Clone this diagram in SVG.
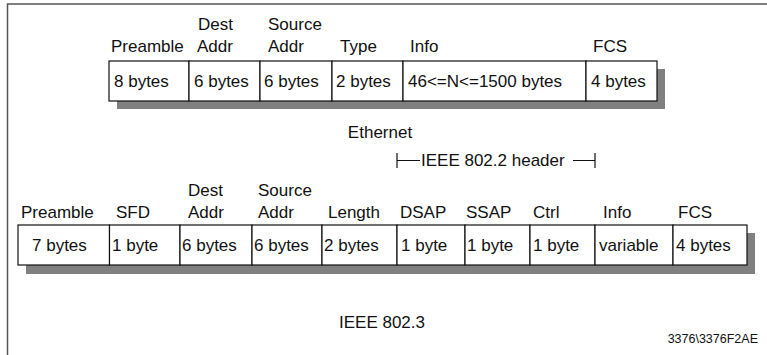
<svg xmlns="http://www.w3.org/2000/svg" width="767" height="355" viewBox="0 0 767 355">
<style>
text{font-family:"Liberation Sans",Arial,sans-serif;font-size:17px;fill:#111}
.cell{fill:#fff;stroke:#111;stroke-width:1.2}
.shadow{fill:#808080}
.frame{stroke:#555;stroke-width:1.5;fill:none}
.br{stroke:#111;stroke-width:1.2;fill:none}
.small{font-size:12.5px}
</style>
<rect width="767" height="355" fill="#fff"/>
<path class="frame" d="M767,4 H7.5 V355"/>

<g id="ethernet">
<rect class="shadow" x="117" y="69" width="548" height="40"/>
<g id="eth-preamble"><rect class="cell" x="109" y="61" width="80" height="40"/><text x="111" y="52">Preamble</text><text x="114" y="87">8 bytes</text></g>
<g id="eth-dest"><rect class="cell" x="189" y="61" width="71" height="40"/><text x="198" y="30">Dest</text><text x="197" y="52">Addr</text><text x="194" y="87">6 bytes</text></g>
<g id="eth-source"><rect class="cell" x="260" y="61" width="72" height="40"/><text x="268" y="30">Source</text><text x="268" y="52">Addr</text><text x="264" y="87">6 bytes</text></g>
<g id="eth-type"><rect class="cell" x="332" y="61" width="71" height="40"/><text x="340" y="52">Type</text><text x="336" y="87">2 bytes</text></g>
<g id="eth-info"><rect class="cell" x="403" y="61" width="183" height="40"/><text x="410" y="52">Info</text><text x="408" y="87">46&lt;=N&lt;=1500 bytes</text></g>
<g id="eth-fcs"><rect class="cell" x="586" y="61" width="71" height="40"/><text x="593" y="52">FCS</text><text x="591" y="87">4 bytes</text></g>
<text x="380" y="138" text-anchor="middle">Ethernet</text>
</g>

<g id="ieee">
<rect class="shadow" x="26" y="233" width="729" height="41"/>
<g id="ieee-preamble"><rect class="cell" x="18" y="225" width="91.5" height="40"/><text x="21" y="218">Preamble</text><text x="32" y="251">7 bytes</text></g>
<g id="ieee-sfd"><rect class="cell" x="109.5" y="225" width="70.5" height="40"/><text x="116" y="218">SFD</text><text x="112" y="251">1 byte</text></g>
<g id="ieee-dest"><rect class="cell" x="180" y="225" width="72" height="40"/><text x="188" y="196">Dest</text><text x="188" y="218">Addr</text><text x="182" y="251">6 bytes</text></g>
<g id="ieee-source"><rect class="cell" x="252" y="225" width="70" height="40"/><text x="258" y="196">Source</text><text x="258" y="218">Addr</text><text x="254" y="251">6 bytes</text></g>
<g id="ieee-length"><rect class="cell" x="322" y="225" width="75" height="40"/><text x="328" y="218">Length</text><text x="324" y="251">2 bytes</text></g>
<g id="ieee-dsap"><rect class="cell" x="397" y="225" width="68" height="40"/><text x="400" y="218">DSAP</text><text x="401" y="251">1 byte</text></g>
<g id="ieee-ssap"><rect class="cell" x="465" y="225" width="65" height="40"/><text x="466" y="218">SSAP</text><text x="467" y="251">1 byte</text></g>
<g id="ieee-ctrl"><rect class="cell" x="530" y="225" width="65" height="40"/><text x="533" y="218">Ctrl</text><text x="533" y="251">1 byte</text></g>
<g id="ieee-info"><rect class="cell" x="595" y="225" width="78" height="40"/><text x="603" y="218">Info</text><text x="599" y="251">variable</text></g>
<g id="ieee-fcs"><rect class="cell" x="673" y="225" width="74" height="40"/><text x="678" y="218">FCS</text><text x="676" y="251">4 bytes</text></g>
<text x="382" y="328" text-anchor="middle">IEEE 802.3</text>
</g>

<g id="connectors">
<path class="br" d="M397,153 V168 M397,160.5 H420 M573,160.5 H595 M595,153 V168"/>
</g>
<g id="header-label"><text x="421" y="166">IEEE 802.2 header</text></g>
<text class="small" x="758" y="343" text-anchor="end">3376\3376F2AE</text>
</svg>
